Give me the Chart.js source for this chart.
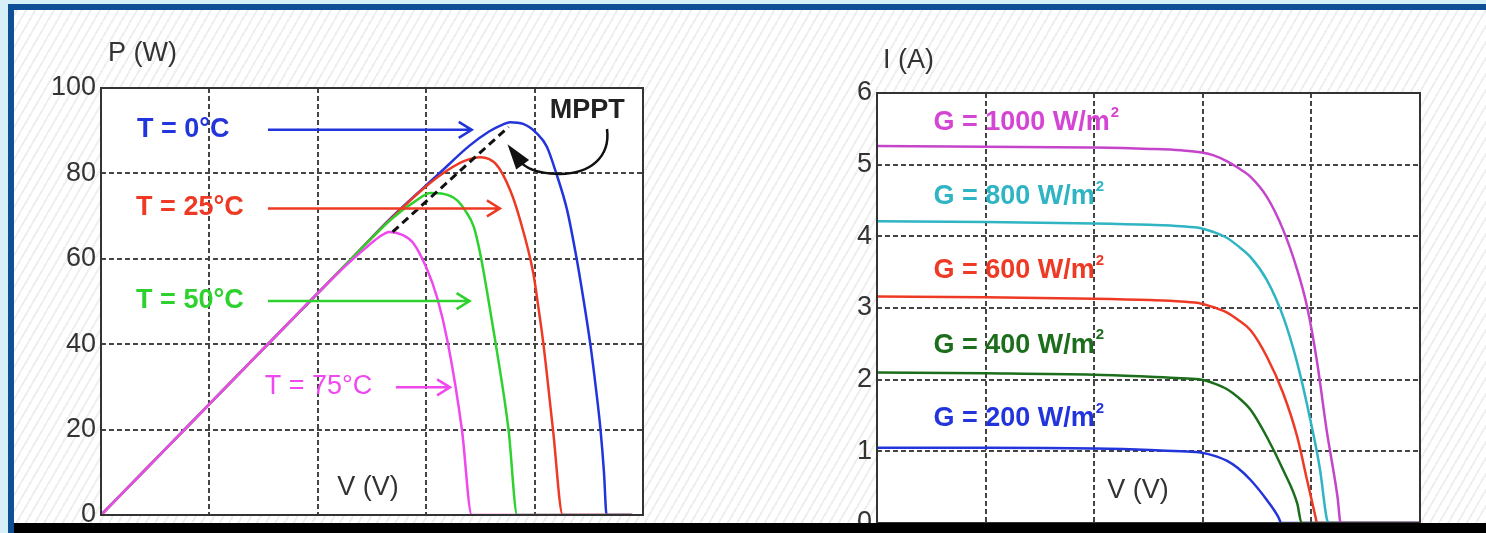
<!DOCTYPE html>
<html>
<head>
<meta charset="utf-8">
<script src="https://cdn.jsdelivr.net/npm/chart.js@4.4.1/dist/chart.umd.min.js"></script>
<style>
  html, body { margin: 0; padding: 0; }
  body { width: 1486px; height: 533px; overflow: hidden; position: relative; background: #d7eff7; }
  #frame {
    position: absolute; left: 8px; top: 4px; right: -20px; bottom: 0;
    border-left: 6px solid #0f4f95; border-top: 6px solid #0f4f95;
    background: repeating-linear-gradient(-60deg, #ffffff 0 6px, #efefef 6px 8px);
  }
  #pvBox { position: absolute; left: 0; top: 0; width: 700px; height: 560px; }
  #ivBox { position: absolute; left: 700px; top: 0; width: 786px; height: 560px; }
  #bar { position: absolute; left: 14px; right: 0; top: 523px; bottom: 0; background: #000; }
</style>
</head>
<body>
<div id="frame"></div>
<div id="pvBox"><canvas id="pvChart"></canvas></div>
<div id="ivBox"><canvas id="ivChart"></canvas></div>
<div id="bar"></div>

<script>
// P-V curves (V in volts, P in watts), one pair of arrays per temperature
const pvV75 = [0, 3.85, 7.7, 11.0, 12.2, 12.8, 13.3, 13.9, 14.4, 15.0, 15.5, 16.0, 16.65, 17.1, 24.5];
const pvP75 = [0, 20, 40, 57, 62.5, 65, 66.3, 65.6, 63.7, 58, 51, 40.3, 19.9, 0, 0];
const pvV50 = [0, 3.85, 7.7, 11.55, 13.4, 14.5, 15.2, 15.8, 16.4, 16.8, 17.2, 17.5, 17.8, 18.2, 18.8, 19.2, 24.5];
const pvP50 = [0, 20, 40, 60, 69.3, 73.5, 75.4, 75.2, 73.8, 71.3, 67.4, 61, 52.5, 40.3, 19.9, 0, 0];
const pvV25 = [0, 3.85, 7.7, 11.55, 13.4, 15.0, 16.0, 16.8, 17.5, 18.25, 18.87, 19.33, 19.94, 20.15, 20.4, 20.85, 21.3, 24.5];
const pvP25 = [0, 20, 40, 60, 69.5, 77, 80.8, 83, 83.8, 82, 76.1, 69.1, 56.6, 49.5, 40.3, 19.9, 0, 0];
const pvV0 = [0, 3.85, 7.7, 11.55, 13.4, 15.56, 17.0, 17.9, 18.55, 18.87, 19.47, 20.1, 20.56, 21.0, 21.5, 21.94, 22.27, 22.57, 22.82, 23.04, 23.2, 23.32, 24.5];
const pvP0 = [0, 20, 40, 60, 69.7, 79.8, 86.5, 89.8, 91.5, 92, 91.6, 89.4, 86.3, 80, 71.4, 60, 50, 40, 30, 20, 10, 0, 0];
// maximum power points line
const mpptV = [13.45, 18.8];
const mpptP = [66.3, 90.9];

// I-V curves (V in volts, I in amps), one pair per irradiance
const ivV1000 = [0, 5, 10, 12.57, 14.0, 14.95, 15.5, 16.1, 16.6, 17.2, 17.95, 18.7, 19.35, 19.8, 20.27, 20.7, 21.2, 21.35, 25];
const ivI1000 = [5.26, 5.25, 5.24, 5.22, 5.2, 5.17, 5.13, 5.05, 4.96, 4.83, 4.55, 4.09, 3.53, 3.02, 2.23, 1.30, 0.37, 0, 0];
const ivV800 = [0, 5, 10, 12.57, 14.0, 14.95, 15.5, 16.1, 16.6, 17.2, 17.95, 18.7, 19.35, 19.95, 20.4, 20.7, 20.8, 25];
const ivI800 = [4.21, 4.2, 4.18, 4.16, 4.14, 4.11, 4.06, 3.98, 3.87, 3.71, 3.39, 2.88, 2.23, 1.44, 0.74, 0.07, 0, 0];
const ivV600 = [0, 5, 10, 12.57, 14.0, 14.95, 15.5, 16.1, 16.6, 17.2, 17.95, 18.7, 19.35, 19.8, 20.2, 20.25, 25];
const ivI600 = [3.16, 3.15, 3.13, 3.11, 3.09, 3.06, 3.01, 2.94, 2.84, 2.69, 2.32, 1.81, 1.20, 0.60, 0.07, 0, 0];
const ivV400 = [0, 5, 10, 12.57, 14.0, 14.95, 15.5, 16.1, 16.6, 17.2, 17.95, 18.7, 19.35, 19.55, 25];
const ivI400 = [2.1, 2.09, 2.07, 2.04, 2.02, 2.0, 1.95, 1.87, 1.76, 1.58, 1.20, 0.74, 0.27, 0, 0];
const ivV200 = [0, 5, 10, 12.57, 14.0, 14.95, 15.5, 16.1, 16.6, 17.2, 17.95, 18.5, 18.6, 25];
const ivI200 = [1.05, 1.05, 1.04, 1.02, 1.0, 0.98, 0.94, 0.87, 0.77, 0.60, 0.32, 0.07, 0, 0];

const pvTicks = [0, 20, 40, 60, 80, 100];
const ivTicks = [0, 1, 2, 3, 4, 5, 6];

const FONT = '"Liberation Sans", Arial, sans-serif';
Chart.defaults.font.family = FONT;

function pts(xs, ys) {
    return xs.map((x, i) => ({ x: x, y: ys[i] }));
}

function line(label, xs, ys, color, extra) {
    return Object.assign({
        label: label,
        data: pts(xs, ys),
        borderColor: color,
        borderWidth: 2.5,
        pointRadius: 0,
        cubicInterpolationMode: 'monotone',
        fill: false
    }, extra || {});
}

function arrow(ctx, x1, y, x2, color) {
    ctx.save();
    ctx.strokeStyle = color;
    ctx.lineWidth = 2.5;
    ctx.beginPath();
    ctx.moveTo(x1, y);
    ctx.lineTo(x2, y);
    ctx.moveTo(x2 - 13, y - 8);
    ctx.lineTo(x2, y);
    ctx.lineTo(x2 - 13, y + 8);
    ctx.stroke();
    ctx.restore();
}

function text(ctx, str, x, y, color, font) {
    ctx.save();
    ctx.fillStyle = color;
    ctx.font = font;
    ctx.textAlign = 'left';
    ctx.textBaseline = 'middle';
    ctx.fillText(str, x, y);
    const w = ctx.measureText(str).width;
    ctx.restore();
    return w;
}

// white plot box with a solid frame round it
const boxPlugin = {
    id: 'box',
    beforeDraw(chart) {
        const a = chart.chartArea, ctx = chart.ctx;
        ctx.save();
        ctx.fillStyle = '#ffffff';
        ctx.fillRect(a.left, a.top, a.right - a.left, a.bottom - a.top);
        ctx.restore();
    },
    afterDraw(chart) {
        const a = chart.chartArea, ctx = chart.ctx;
        ctx.save();
        ctx.strokeStyle = '#333';
        ctx.lineWidth = 2;
        ctx.strokeRect(a.left, a.top, a.right - a.left, a.bottom - a.top);
        ctx.restore();
    }
};

const pvNotes = {
    id: 'pvNotes',
    afterDraw(chart) {
        const ctx = chart.ctx, xs = chart.scales.x, ys = chart.scales.y;
        const px = v => xs.getPixelForValue(v), py = p => ys.getPixelForValue(p);
        const big = 'bold 27px ' + FONT;
        const a = chart.chartArea;

        text(ctx, 'P (W)', a.left + 7, a.top - 34, '#333', '27px ' + FONT);
        text(ctx, 'V (V)', px(10.9), py(6.4), '#333', '27px ' + FONT);

        text(ctx, 'T = 0°C', px(1.66), py(90.3), '#2234dc', big);
        arrow(ctx, px(7.7), py(90.2), px(17.1), '#2234dc');
        text(ctx, 'T = 25°C', px(1.62), py(71.9), '#ee3a24', big);
        arrow(ctx, px(7.7), py(71.8), px(18.4), '#ee3a24');
        text(ctx, 'T = 50°C', px(1.62), py(50.2), '#2ed12e', big);
        arrow(ctx, px(7.7), py(50.1), px(17.0), '#2ed12e');
        text(ctx, 'T = 75°C', px(7.55), py(30.0), '#ee48ee', '27px ' + FONT);
        arrow(ctx, px(13.6), py(29.9), px(16.1), '#ee48ee');

        text(ctx, 'MPPT', px(20.7), py(94.8), '#222', 'bold 27px ' + FONT);

        // curved pointer from the MPPT label to the peak line
        ctx.save();
        ctx.strokeStyle = '#111';
        ctx.fillStyle = '#111';
        ctx.lineWidth = 2.5;
        ctx.beginPath();
        ctx.moveTo(px(23.34), py(90.4));
        ctx.bezierCurveTo(px(23.5), py(84), px(22.6), py(79.6), px(21.0), py(79.9));
        ctx.bezierCurveTo(px(20.2), py(80.0), px(19.7), py(81.0), px(19.4), py(82.4));
        ctx.stroke();
        const tx = px(18.75), ty = py(86.8), bx = px(19.45), by = py(82.0);
        const dx = tx - bx, dy = ty - by, len = Math.hypot(dx, dy);
        const nx = -dy / len * 8, ny = dx / len * 8;
        ctx.beginPath();
        ctx.moveTo(tx, ty);
        ctx.lineTo(bx + nx, by + ny);
        ctx.lineTo(bx - nx, by - ny);
        ctx.closePath();
        ctx.fill();
        ctx.restore();
    }
};

const ivNotes = {
    id: 'ivNotes',
    afterDraw(chart) {
        const ctx = chart.ctx, xs = chart.scales.x, ys = chart.scales.y;
        const px = v => xs.getPixelForValue(v), py = i => ys.getPixelForValue(i);
        const a = chart.chartArea;
        const big = 'bold 27px ' + FONT;

        text(ctx, 'I (A)', a.left + 6, a.top - 32, '#333', '27px ' + FONT);
        text(ctx, 'V (V)', px(10.6), py(0.45), '#333', '27px ' + FONT);

        const gl = [
            ['G = 1000 W/m', 5.59, '#d445d4'],
            ['G = 800 W/m', 4.55, '#2fb4c4'],
            ['G = 600 W/m', 3.52, '#ee3a24'],
            ['G = 400 W/m', 2.48, '#1c6e1c'],
            ['G = 200 W/m', 1.46, '#2234dc']
        ];
        gl.forEach(g => {
            const w = text(ctx, g[0], px(2.6), py(g[1]), g[2], big);
            text(ctx, '2', px(2.6) + w + 1, py(g[1]) - 10, g[2], 'bold 15px ' + FONT);
        });
    }
};

function axes(xMax, yMax, yStep, yWidth) {
    return {
        x: {
            type: 'linear', min: 0, max: xMax,
            ticks: { display: false, stepSize: 5 },
            grid: { color: '#444', lineWidth: 2, drawTicks: false },
            border: { display: false, dash: [5, 3] }
        },
        y: {
            type: 'linear', min: 0, max: yMax,
            ticks: { stepSize: yStep, color: '#333', padding: 5, font: { size: 27 } },
            grid: { color: '#444', lineWidth: 2, drawTicks: false },
            border: { display: false, dash: [5, 3] },
            afterFit(scale) { scale.width = yWidth; }
        }
    };
}

new Chart(document.getElementById('pvChart'), {
    type: 'line',
    data: {
        datasets: [
            line('MPPT', mpptV, mpptP, '#111', { borderDash: [8, 5], borderWidth: 3, cubicInterpolationMode: 'default', tension: 0 }),
            line('T = 75°C', pvV75, pvP75, '#ee48ee'),
            line('T = 50°C', pvV50, pvP50, '#2ed12e'),
            line('T = 25°C', pvV25, pvP25, '#ee3a24'),
            line('T = 0°C', pvV0, pvP0, '#2234dc')
        ]
    },
    options: {
        responsive: true,
        maintainAspectRatio: false,
        animation: false,
        layout: { padding: { top: 88, right: 57, bottom: 45, left: 0 } },
        plugins: { legend: { display: false }, tooltip: { enabled: false } },
        scales: axes(25, pvTicks[pvTicks.length - 1], pvTicks[1] - pvTicks[0], 101)
    },
    plugins: [boxPlugin, pvNotes]
});

new Chart(document.getElementById('ivChart'), {
    type: 'line',
    data: {
        datasets: [
            line('G = 1000 W/m²', ivV1000, ivI1000, '#c445cc'),
            line('G = 800 W/m²', ivV800, ivI800, '#2fb4c4'),
            line('G = 600 W/m²', ivV600, ivI600, '#ee3a24'),
            line('G = 400 W/m²', ivV400, ivI400, '#1c6e1c'),
            line('G = 200 W/m²', ivV200, ivI200, '#2234dc')
        ]
    },
    options: {
        responsive: true,
        maintainAspectRatio: false,
        animation: false,
        layout: { padding: { top: 93, right: 66, bottom: 37, left: 0 } },
        plugins: { legend: { display: false }, tooltip: { enabled: false } },
        scales: axes(25, ivTicks[ivTicks.length - 1], ivTicks[1] - ivTicks[0], 177)
    },
    plugins: [boxPlugin, ivNotes]
});
</script>
</body>
</html>
